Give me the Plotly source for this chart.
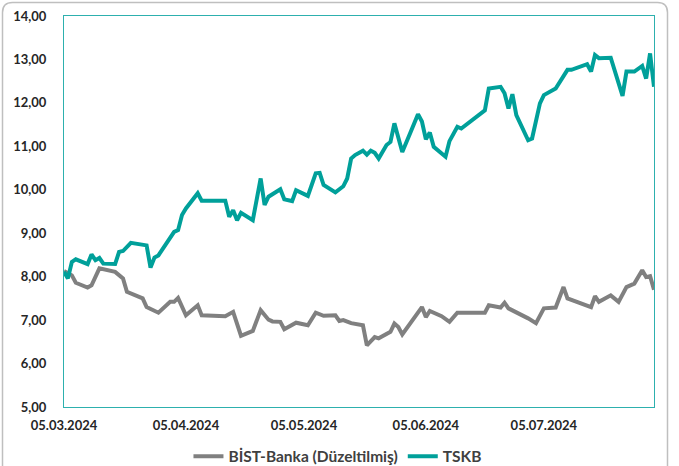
import plotly.graph_objects as go

# ---- data ----
tskb_dates = [
    "2024-03-05", "2024-03-06", "2024-03-07", "2024-03-08", "2024-03-11", "2024-03-12",
    "2024-03-13", "2024-03-14", "2024-03-15", "2024-03-18", "2024-03-19", "2024-03-20",
    "2024-03-22", "2024-03-25", "2024-03-26", "2024-03-27", "2024-03-28", "2024-03-29",
    "2024-04-02", "2024-04-03", "2024-04-04", "2024-04-05", "2024-04-08", "2024-04-09",
    "2024-04-15", "2024-04-16", "2024-04-17", "2024-04-18", "2024-04-19", "2024-04-22",
    "2024-04-24", "2024-04-25", "2024-04-26", "2024-04-29", "2024-04-30", "2024-05-02",
    "2024-05-03", "2024-05-06", "2024-05-08", "2024-05-09", "2024-05-10", "2024-05-13",
    "2024-05-15", "2024-05-16", "2024-05-17", "2024-05-18", "2024-05-20", "2024-05-21",
    "2024-05-22", "2024-05-23", "2024-05-24", "2024-05-26", "2024-05-27", "2024-05-28",
    "2024-05-30", "2024-06-01", "2024-06-03", "2024-06-04", "2024-06-05", "2024-06-06",
    "2024-06-07", "2024-06-10", "2024-06-11", "2024-06-13", "2024-06-14", "2024-06-20",
    "2024-06-21", "2024-06-24", "2024-06-25", "2024-06-26", "2024-06-27", "2024-06-28",
    "2024-07-01", "2024-07-02", "2024-07-04", "2024-07-05", "2024-07-08", "2024-07-11",
    "2024-07-12", "2024-07-16", "2024-07-17", "2024-07-18", "2024-07-19", "2024-07-22",
    "2024-07-25", "2024-07-26", "2024-07-28", "2024-07-30", "2024-07-31", "2024-08-01",
    "2024-08-02",
]
tskb_values = [
    8.11, 7.96, 8.34, 8.40, 8.29, 8.51,
    8.38, 8.43, 8.30, 8.29, 8.57, 8.59,
    8.78, 8.75, 8.72, 8.21, 8.44, 8.49,
    9.03, 9.07, 9.42, 9.57, 9.92, 9.75,
    9.75, 9.38, 9.53, 9.30, 9.47, 9.30,
    10.26, 9.65, 9.84, 10.01, 9.78, 9.74,
    9.99, 9.86, 10.38, 10.39, 10.11, 9.94,
    10.08, 10.26, 10.72, 10.80, 10.90, 10.81,
    10.90, 10.85, 10.72, 11.03, 11.10, 11.53,
    10.87, 11.30, 11.74, 11.57, 11.16, 11.32,
    10.99, 10.76, 11.12, 11.45, 11.41, 11.83,
    12.33, 12.37, 12.22, 11.87, 12.20, 11.72,
    11.14, 11.18, 11.99, 12.18, 12.33, 12.76,
    12.76, 12.89, 12.72, 13.10, 13.03, 13.04,
    12.16, 12.72, 12.72, 12.85, 12.56, 13.14,
    12.37,
]

bank_dates = [
    "2024-03-05", "2024-03-07", "2024-03-08", "2024-03-11", "2024-03-12", "2024-03-14",
    "2024-03-18", "2024-03-20", "2024-03-21", "2024-03-25", "2024-03-26", "2024-03-29",
    "2024-04-01", "2024-04-02", "2024-04-03", "2024-04-05", "2024-04-08", "2024-04-09",
    "2024-04-15", "2024-04-17", "2024-04-19", "2024-04-22", "2024-04-24", "2024-04-26",
    "2024-04-27", "2024-04-29", "2024-04-30", "2024-05-03", "2024-05-06", "2024-05-08",
    "2024-05-10", "2024-05-13", "2024-05-14", "2024-05-15", "2024-05-17", "2024-05-20",
    "2024-05-21", "2024-05-23", "2024-05-24", "2024-05-27", "2024-05-28", "2024-05-29",
    "2024-05-30", "2024-06-02", "2024-06-04", "2024-06-05", "2024-06-06", "2024-06-09",
    "2024-06-11", "2024-06-13", "2024-06-20", "2024-06-21", "2024-06-24", "2024-06-25",
    "2024-06-26", "2024-07-01", "2024-07-03", "2024-07-05", "2024-07-08", "2024-07-10",
    "2024-07-11", "2024-07-17", "2024-07-18", "2024-07-19", "2024-07-22", "2024-07-24",
    "2024-07-26", "2024-07-28", "2024-07-30", "2024-07-31", "2024-08-01", "2024-08-02",
]
bank_values = [
    8.13, 8.03, 7.86, 7.75, 7.80, 8.19,
    8.11, 7.96, 7.65, 7.50, 7.30, 7.17,
    7.42, 7.42, 7.51, 7.11, 7.34, 7.11,
    7.09, 7.19, 6.64, 6.75, 7.23, 7.01,
    6.97, 6.96, 6.79, 6.94, 6.88, 7.17,
    7.10, 7.11, 6.98, 7.00, 6.93, 6.88,
    6.42, 6.61, 6.58, 6.73, 6.92, 6.84,
    6.67, 7.04, 7.30, 7.07, 7.21, 7.09,
    6.96, 7.17, 7.17, 7.34, 7.29, 7.40,
    7.27, 7.04, 6.93, 7.27, 7.29, 7.76,
    7.50, 7.30, 7.55, 7.42, 7.57, 7.42,
    7.76, 7.84, 8.15, 7.99, 8.01, 7.70,
]

series_names = ["BİST-Banka (Düzeltilmiş)", "TSKB"]
tick_dates = ["2024-03-05", "2024-04-05", "2024-05-05", "2024-06-05", "2024-07-05"]
tick_labels = ["05.03.2024", "05.04.2024", "05.05.2024", "05.06.2024", "05.07.2024"]
y_ticks = [5, 6, 7, 8, 9, 10, 11, 12, 13, 14]

# ---- style ----
TEAL = "#00A09A"
GRAY = "#808080"
FRAME = "#2DB0AE"
FONT = "Lato"

fig = go.Figure()
fig.add_trace(go.Scatter(x=bank_dates, y=bank_values, mode="lines", name=series_names[0],
                         line=dict(color=GRAY, width=4)))
fig.add_trace(go.Scatter(x=tskb_dates, y=tskb_values, mode="lines", name=series_names[1],
                         line=dict(color=TEAL, width=4)))

W, H = 679, 466
ML, MR, MT, MB = 64, 25, 16, 59
pw, ph = W - ML - MR, H - MT - MB


def px(xp):
    return (xp - ML) / pw


def py(yp):
    return (H - MB - yp) / ph


# rounded outer chart border
l, r, t, b, rad = px(2.5), px(667.5), py(2.5), py(490), 10
dx, dy = rad / pw, rad / ph
border_path = (f"M {l},{b} L {l},{t - dy} Q {l},{t} {l + dx},{t} "
               f"L {r - dx},{t} Q {r},{t} {r},{t - dy} L {r},{b}")

fig.update_layout(
    width=W, height=H,
    margin=dict(l=ML, r=MR, t=MT, b=MB, pad=0),
    paper_bgcolor="white", plot_bgcolor="white",
    separators=",.",
    showlegend=True,
    legend=dict(orientation="h", xref="container", yref="container",
                x=0.497, xanchor="center", y=0.02, yanchor="middle",
                font=dict(family=FONT, size=15.5, color="#404040", weight="bold"),
                itemwidth=30, bgcolor="rgba(0,0,0,0)"),
    xaxis=dict(type="date", range=["2024-03-05", "2024-08-02"],
               tickmode="array", tickvals=tick_dates, ticktext=tick_labels,
               showgrid=False, zeroline=False, automargin=False,
               showline=True, mirror=True, linecolor=FRAME, linewidth=1,
               ticks="", ticklabelstandoff=6,
               tickfont=dict(family=FONT, size=13, color="#262626", weight="bold")),
    yaxis=dict(range=[5, 14], tickmode="array", tickvals=y_ticks, tickformat=".2f",
               showgrid=False, zeroline=False, automargin=False,
               showline=True, mirror=True, linecolor=FRAME, linewidth=1,
               ticks="", ticklabelstandoff=14,
               tickfont=dict(family=FONT, size=13, color="#262626", weight="bold")),
    shapes=[dict(type="path", xref="paper", yref="paper", path=border_path,
                 line=dict(color="#BFBFBF", width=1.5), layer="above")],
)

fig.write_html("out.html",
               config={"displayModeBar": False},
               post_script="document.body.style.margin='0';document.body.style.overflow='hidden';")
